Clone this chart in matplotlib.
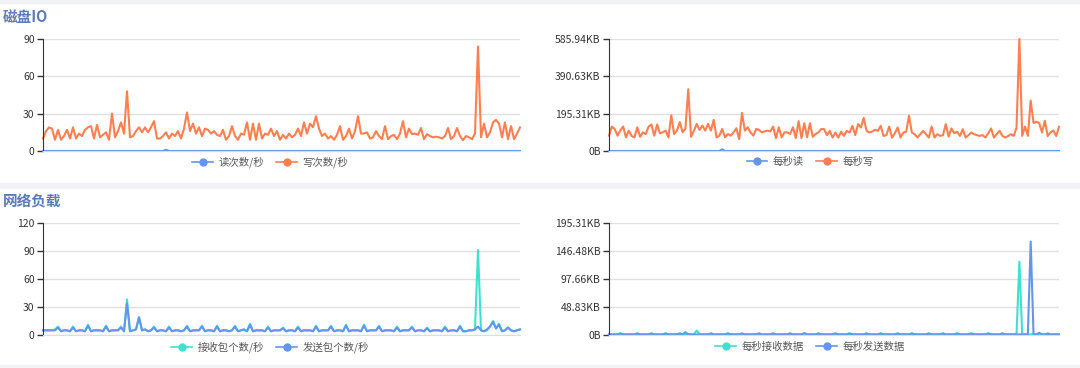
import matplotlib
matplotlib.use("Agg")
import matplotlib.pyplot as plt
from matplotlib.lines import Line2D
from matplotlib.patches import Rectangle
from decimal import Decimal, ROUND_HALF_UP

plt.rcParams["font.family"] = ["Noto Sans CJK SC", "DejaVu Sans"]

# ---- data (160 samples on a shared time axis) ----
# disk IO: operations per second
DISK_READ_OPS = [
    0, 0, 0, 0, 0, 0, 0, 0, 0, 0, 0, 0, 0, 0, 0, 0, 0, 0, 0, 0,
    0, 0, 0, 0, 0, 0, 0, 0, 0, 0, 0, 0, 0, 0, 0, 0, 0, 0, 0, 0,
    0, 1, 0, 0, 0, 0, 0, 0, 0, 0, 0, 0, 0, 0, 0, 0, 0, 0, 0, 0,
    0, 0, 0, 0, 0, 0, 0, 0, 0, 0, 0, 0, 0, 0, 0, 0, 0, 0, 0, 0,
    0, 0, 0, 0, 0, 0, 0, 0, 0, 0, 0, 0, 0, 0, 0, 0, 0, 0, 0, 0,
    0, 0, 0, 0, 0, 0, 0, 0, 0, 0, 0, 0, 0, 0, 0, 0, 0, 0, 0, 0,
    0, 0, 0, 0, 0, 0, 0, 0, 0, 0, 0, 0, 0, 0, 0, 0, 0, 0, 0, 0,
    0, 0, 0, 0, 0, 0, 0, 0, 0, 0, 0, 0, 0, 0, 0, 0, 0, 0, 0, 0,
]
DISK_WRITE_OPS = [
    10, 16, 19, 18, 9, 17, 9, 12, 17, 10, 19, 10, 14, 12, 17, 19, 20, 10, 21, 11,
    13, 15, 9, 30, 11, 16, 23, 14, 48, 11, 12, 16, 19, 15, 19, 15, 19, 24, 10, 10,
    12, 15, 10, 14, 12, 16, 10, 18, 31, 16, 22, 14, 19, 12, 18, 17, 14, 16, 13, 12,
    17, 9, 12, 20, 12, 9, 14, 13, 23, 9, 22, 9, 22, 10, 14, 13, 18, 12, 16, 9,
    13, 10, 14, 11, 13, 18, 12, 23, 14, 22, 19, 28, 18, 12, 14, 10, 12, 9, 13, 20,
    9, 12, 18, 10, 16, 28, 14, 14, 15, 10, 11, 16, 12, 9.5, 20, 9.5, 12, 13, 9.5, 14,
    24, 11, 18, 13.6, 14, 13, 18.5, 9.5, 13.6, 12, 11, 11.5, 11, 10, 12, 18.5, 9.5, 12, 18.5, 12,
    8.7, 12, 11, 9.5, 14, 84, 11, 22, 11, 15, 23, 25, 22, 11, 23, 9.5, 20, 9.5, 14, 19,
]
# disk IO: thousands of bytes per second
DISK_READ_KB = [
    0, 0, 0, 0, 0, 0, 0, 0, 0, 0, 0, 0, 0, 0, 0, 0, 0, 0, 0, 0,
    0, 0, 0, 0, 0, 0, 0, 0, 0, 0, 0, 0, 0, 0, 0, 0, 0, 0, 0, 0,
    9, 0, 0, 0, 0, 0, 0, 0, 0, 0, 0, 0, 0, 0, 0, 0, 0, 0, 0, 0,
    0, 0, 0, 0, 0, 0, 0, 0, 0, 0, 0, 0, 0, 0, 0, 0, 0, 0, 0, 0,
    0, 0, 0, 0, 0, 0, 0, 0, 0, 0, 0, 0, 0, 0, 0, 0, 0, 0, 0, 0,
    0, 0, 0, 0, 0, 0, 0, 0, 0, 0, 0, 0, 0, 0, 0, 0, 0, 0, 0, 0,
    0, 0, 0, 0, 0, 0, 0, 0, 0, 0, 0, 0, 0, 0, 0, 0, 0, 0, 0, 0,
    0, 0, 0, 0, 0, 0, 0, 0, 0, 0, 0, 0, 0, 0, 0, 0, 0, 0, 0, 0,
]
DISK_WRITE_KB = [
    82, 131, 118, 82, 110, 131, 73, 109, 80, 73, 127, 76, 100, 91, 131, 142, 82, 142, 95, 100,
    109, 73, 191, 91, 109, 155, 100, 120, 331, 76, 109, 145, 113, 136, 109, 145, 109, 167, 73, 82,
    118, 73, 91, 82, 100, 122, 64, 204, 109, 127, 100, 82, 118, 113, 100, 105, 109, 105, 131, 69,
    127, 73, 100, 100, 91, 127, 69, 160, 69, 149, 73, 149, 76, 91, 100, 118, 117, 85, 108, 72,
    99, 72, 103, 81, 108, 99, 135, 85, 144, 126, 177, 108, 99, 105, 113, 108, 135, 81, 85, 131,
    72, 95, 126, 72, 99, 103, 189, 99, 90, 72, 90, 108, 90, 72, 131, 72, 90, 81, 85, 144,
    77, 121, 95, 103, 81, 117, 72, 85, 99, 90, 85, 81, 85, 72, 95, 121, 72, 90, 108, 81,
    72, 80, 90, 81, 126, 600, 81, 131, 81, 270, 150, 157, 150, 99, 162, 80, 100, 110, 80, 130,
]
# network: packets per second
NET_RX_PKTS = [
    5, 5, 5, 5, 6, 9, 4, 5, 5, 4, 9, 4, 5, 5, 4, 11, 4, 5, 5, 5,
    4, 10, 4, 5, 5, 5, 9, 4, 38, 4, 5, 6, 19, 5, 6, 4, 5, 9, 4, 5,
    5, 4, 9, 4, 5, 5, 4, 5, 10, 4, 5, 5, 5, 10, 4, 5, 5, 4, 10, 4,
    5, 5, 4, 5, 10, 4, 5, 6, 4, 12, 4, 5, 5, 5, 4, 9, 4, 5, 5, 5,
    8, 4, 5, 5, 4, 9, 4, 5, 5, 5, 4, 10, 4, 5, 5, 5, 10, 4, 5, 5,
    4, 11, 4, 5, 5, 5, 4, 11, 4, 5, 5, 5, 10, 4, 5, 5, 5, 4, 9, 4,
    5, 5, 5, 9, 4, 5, 5, 4, 8, 4, 5, 5, 5, 4, 9, 4, 5, 5, 4, 10,
    4, 4, 5, 5, 6, 91, 5, 4, 5, 9, 15, 7, 12, 4, 5, 8, 5, 4, 5, 6,
]
NET_TX_PKTS = [
    5, 5, 5, 5, 5, 8, 4, 5, 5, 4, 8, 4, 5, 5, 4, 10, 4, 5, 5, 5,
    4, 9, 4, 5, 5, 5, 8, 4, 34, 4, 5, 6, 19, 5, 6, 4, 5, 8, 4, 5,
    5, 4, 8, 4, 5, 5, 4, 5, 9, 4, 5, 5, 5, 9, 4, 5, 5, 4, 9, 4,
    5, 5, 4, 5, 9, 4, 5, 6, 4, 11, 4, 5, 5, 5, 4, 8, 4, 5, 5, 5,
    7, 4, 5, 5, 4, 8, 4, 5, 5, 5, 4, 9, 4, 5, 5, 5, 9, 4, 5, 5,
    4, 10, 4, 5, 5, 5, 4, 10, 4, 5, 5, 5, 9, 4, 5, 5, 5, 4, 8, 4,
    5, 5, 5, 8, 4, 5, 5, 4, 7, 4, 5, 5, 5, 4, 8, 4, 5, 5, 4, 9,
    4, 4, 5, 5, 6, 9, 5, 4, 6, 9, 14, 7, 11, 4, 5, 8, 5, 4, 5, 6,
]
# network: thousands of bytes per second
NET_RX_KB = [
    1.2, 1.2, 1.2, 1.2, 3, 1.2, 1.2, 1.2, 1.2, 1.2, 3, 1.2, 1.2, 1.2, 1.2, 3, 1.2, 1.2, 1.2, 1.2,
    3, 1.2, 1.2, 1.2, 1.2, 3, 1.2, 1.2, 1.2, 1.2, 1.5, 8, 1.2, 1.2, 1.2, 1.2, 3, 1.2, 1.2, 1.2,
    1.2, 1.2, 3, 1.2, 1.2, 1.2, 1.2, 3, 1.2, 1.2, 1.2, 1.2, 1.2, 3, 1.2, 1.2, 1.2, 1.2, 3, 1.2,
    1.2, 1.2, 1.2, 1.2, 3, 1.2, 1.2, 1.2, 1.2, 2.5, 1.2, 1.2, 1.2, 1.2, 3, 1.2, 1.2, 1.2, 1.2, 1.2,
    3, 1.2, 1.2, 1.2, 1.2, 3, 1.2, 1.2, 1.2, 1.2, 1.2, 3, 1.2, 1.2, 1.2, 1.2, 3, 1.2, 1.2, 1.2,
    1.2, 1.2, 3, 1.2, 1.2, 1.2, 1.2, 3, 1.2, 1.2, 1.2, 1.2, 1.2, 3, 1.2, 1.2, 1.2, 1.2, 3, 1.2,
    1.2, 1.2, 1.2, 3, 1.2, 1.2, 1.2, 1.2, 3, 1.2, 1.2, 1.2, 1.2, 1.2, 3, 1.2, 1.2, 1.2, 1.2, 3,
    1.2, 1.2, 1.2, 1.2, 1.5, 131, 1.5, 1.2, 0.3, 1.2, 1.2, 1.2, 1.2, 1.2, 1.2, 3, 1.2, 1.2, 1.2, 1.2,
]
NET_TX_KB = [
    1.0, 1.0, 1.0, 1.0, 2.5, 1.0, 1.0, 1.0, 1.0, 1.0, 2.5, 1.0, 1.0, 1.0, 1.0, 2.5, 1.0, 1.0, 1.0, 1.0,
    2.5, 1.0, 1.0, 1.0, 1.0, 2.5, 1.0, 5, 1.0, 1.0, 1.0, 1.0, 1.0, 1.0, 1.0, 1.0, 2.5, 1.0, 1.0, 1.0,
    1.0, 1.0, 2.5, 1.0, 1.0, 1.0, 1.0, 2.5, 1.0, 1.0, 1.0, 1.0, 1.0, 2.5, 1.0, 1.0, 1.0, 1.0, 2.5, 1.0,
    1.0, 1.0, 1.0, 1.0, 2.5, 1.0, 1.0, 1.0, 1.0, 3.5, 1.0, 1.0, 1.0, 1.0, 2.5, 1.0, 1.0, 1.0, 1.0, 1.0,
    2.5, 1.0, 1.0, 1.0, 1.0, 2.5, 1.0, 1.0, 1.0, 1.0, 1.0, 2.5, 1.0, 1.0, 1.0, 1.0, 2.5, 1.0, 1.0, 1.0,
    1.0, 1.0, 2.5, 1.0, 1.0, 1.0, 1.0, 2.5, 1.0, 1.0, 1.0, 1.0, 1.0, 2.5, 1.0, 1.0, 1.0, 1.0, 2.5, 1.0,
    1.0, 1.0, 1.0, 2.5, 1.0, 1.0, 1.0, 1.0, 2.5, 1.0, 1.0, 1.0, 1.0, 1.0, 2.5, 1.0, 1.0, 1.0, 1.0, 2.5,
    1.0, 1.0, 1.0, 1.0, 1.0, 1.0, 1.0, 1.0, 1.2, 167, 1.2, 1.0, 4, 1.0, 1.0, 2.0, 1.0, 1.0, 1.0, 1.0,
]

OPS_TICKS = [0, 30, 60, 90]
PKT_TICKS = [0, 30, 60, 90, 120]
WRITE_TICKS_KB = [0, 200, 400, 600]      # thousands of bytes
NET_TICKS_KB = [0, 50, 100, 150, 200]

BLUE = "#6495ED"
CORAL = "#FF7F50"
TURQ = "#40E0D0"
W, H = 1080, 368


def fmt_bytes(v):
    if v == 0:
        return "0B"
    kb = (Decimal(v) * 1000 / 1024).quantize(Decimal("0.01"), rounding=ROUND_HALF_UP)
    return f"{kb}KB"


def draw(ax, series, ticks, labels):
    x = range(len(series[0][0]))
    for vals, color in series:
        ax.plot(x, vals, color=color, lw=1.5, clip_on=False, solid_joinstyle="round")
    ax.set_xlim(0, len(series[0][0]) - 1)
    ax.set_ylim(ticks[0], ticks[-1])
    ax.set_yticks(ticks)
    ax.set_yticklabels(labels)
    ax.set_xticks([])
    ax.grid(axis="y", color="#e0e0e0", lw=1)
    ax.set_axisbelow(True)
    for s in ("top", "right"):
        ax.spines[s].set_visible(False)
    ax.spines["left"].set_color("#333333")
    ax.spines["bottom"].set_color("#dddddd")
    ax.tick_params(axis="y", length=4, width=1, color="#333333",
                   labelsize=7.5, labelcolor="#333333", pad=2)


def box(x0, y0, x1, y1):
    return [x0 / W, 1 - y1 / H, (x1 - x0) / W, (y1 - y0) / H]


fig = plt.figure(figsize=(10.8, 3.68), dpi=100)
fig.patch.set_facecolor("white")
for y0, y1 in [(0, 3), (183, 188), (365, 368)]:
    fig.patches.append(Rectangle((0, 1 - y1 / H), 1, (y1 - y0) / H,
                                 transform=fig.transFigure, color="#f0f2f5", zorder=0))

ax1 = fig.add_axes(box(43, 39, 520, 151))
draw(ax1, [(DISK_WRITE_OPS, CORAL), (DISK_READ_OPS, BLUE)],
     OPS_TICKS, [str(t) for t in OPS_TICKS])
ax2 = fig.add_axes(box(609, 39, 1059, 151))
draw(ax2, [(DISK_WRITE_KB, CORAL), (DISK_READ_KB, BLUE)],
     WRITE_TICKS_KB, [fmt_bytes(t) for t in WRITE_TICKS_KB])
ax3 = fig.add_axes(box(43, 223, 520, 335))
draw(ax3, [(NET_RX_PKTS, TURQ), (NET_TX_PKTS, BLUE)],
     PKT_TICKS, [str(t) for t in PKT_TICKS])
ax4 = fig.add_axes(box(609, 223, 1059, 335))
draw(ax4, [(NET_RX_KB, TURQ), (NET_TX_KB, BLUE)],
     NET_TICKS_KB, [fmt_bytes(t) for t in NET_TICKS_KB])

fig.text(3 / W, 1 - 17 / H, "磁盘IO", fontsize=10.5, fontweight="bold",
         color="#5b7bb4", va="center", ha="left")
fig.text(3 / W, 1 - 201 / H, "网络负载", fontsize=10.5, fontweight="bold",
         color="#5b7bb4", va="center", ha="left")


def legend(cx, cy, items):
    handles = [Line2D([0], [0], color=c, lw=1.2, marker="o", markersize=5) for _, c in items]
    fig.legend(handles, [t for t, _ in items], loc="center",
               bbox_to_anchor=(cx / W, 1 - cy / H), ncol=len(items), frameon=False,
               fontsize=7.5, labelcolor="#555555", handlelength=2.0,
               handletextpad=0.5, columnspacing=1.2)


legend(270, 162, [("读次数/秒", BLUE), ("写次数/秒", CORAL)])
legend(810, 162, [("每秒读", BLUE), ("每秒写", CORAL)])
legend(270, 347, [("接收包个数/秒", TURQ), ("发送包个数/秒", BLUE)])
legend(810, 347, [("每秒接收数据", TURQ), ("每秒发送数据", BLUE)])

fig.savefig("out.png", dpi=100, facecolor="white")
